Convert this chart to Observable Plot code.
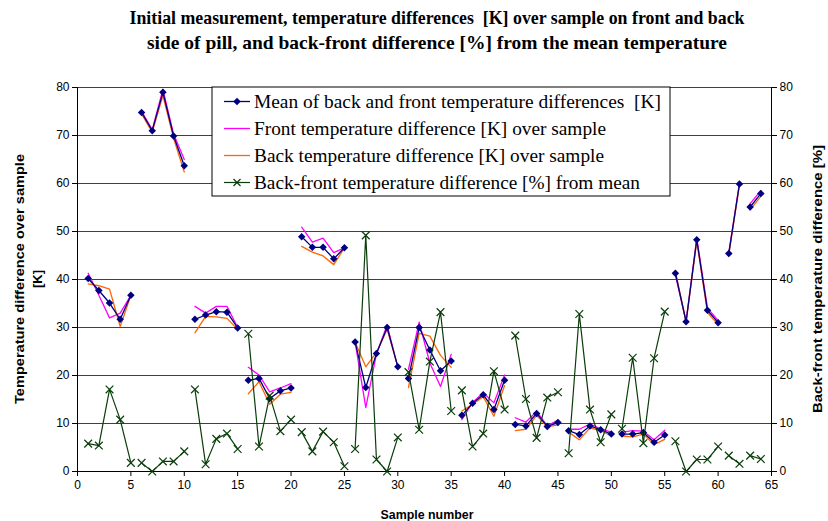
<!DOCTYPE html>
<html>
<head>
<meta charset="utf-8">
<script src="https://cdn.jsdelivr.net/npm/d3@7"></script>
<script src="https://cdn.jsdelivr.net/npm/@observablehq/plot@0.6"></script>
<style>
  html, body { margin: 0; padding: 0; background: #fff; }
  #chart { width: 828px; height: 521px; position: relative; }
</style>
</head>
<body>
<div id="chart"></div>
<script>
// ---- Data ----
const samples = [1,2,3,4,5,6,7,8,9,10,11,12,13,14,15,16,17,18,19,20,21,22,23,24,25,26,27,28,29,30,31,32,33,34,35,36,37,38,39,40,41,42,43,44,45,46,47,48,49,50,51,52,53,54,55,56,57,58,59,60,61,62,63,64];

const meanK = [40.2,37.7,35.1,31.7,36.7, 74.8,71.0,79.0,69.9,63.7, 31.7,32.6,33.3,33.2,29.9, 19.0,19.4,15.2,16.8,17.4,
  48.9,46.7,46.7,44.3,46.6, 27.0,17.5,24.6,30.0,21.8, 19.4,30.0,25.3,21.0,23.0, 11.7,14.2,16.0,12.9,19.0,
  9.8,9.5,12.1,9.4,10.2, 8.5,7.7,9.5,8.7,7.8, 7.8,7.8,8.1,6.1,7.6, 41.3,31.2,48.3,33.6,31.0, 45.4,59.9, 55.1,57.9];

const frontK = [41.3,36.7,32.0,33.0,36.7, 75.1,71.2,79.6,70.3,65.0, 34.4,33.0,34.4,34.4,30.0, 21.7,20.1,16.6,17.4,18.3,
  50.9,47.8,48.6,45.6,46.6, 27.0,13.3,24.5,30.5,21.7, 21.3,31.1,22.6,17.7,24.4, 10.8,14.4,16.4,14.3,20.1,
  11.2,10.3,12.5,9.5,10.7, 8.8,8.8,9.9,8.9,8.2, 8.2,8.5,8.4,6.6,8.6, 40.9,31.3,48.6,34.1,31.4, 45.6,60.1, 55.8,58.5];

const backK = [39.1,38.7,38.0,30.2,36.7, 74.5,70.7,78.3,69.4,62.4, 28.9,32.3,32.2,31.9,29.6, 16.2,18.7,14.0,16.1,16.5,
  46.9,45.7,44.9,43.1,46.6, 27.0,21.8,24.8,29.6,21.9, 17.5,28.8,28.2,24.2,21.7, 12.6,14.0,15.6,11.5,17.9,
  8.5,8.8,11.7,9.3,9.7, 8.2,6.6,9.1,8.5,7.4, 7.4,7.2,7.8,5.6,6.7, 41.7,31.1,48.0,33.1,30.6, 45.2,59.7, 54.5,57.3];

const diffPct = [5.8,5.4,17.1,10.8,1.8, 1.8,0.0,2.1,2.1,4.2, 17.1,1.5,6.8,7.9,4.7, 28.7,5.2,15.8,8.4,10.8,
  8.2,4.2,8.3,6.1,1.1, 4.7,49.2,2.5,0.0,7.1, 20.7,8.7,22.9,33.2,12.6, 16.9,5.2,7.9,20.9,12.9,
  28.3,15.1,7.0,15.4,16.5, 3.8,32.8,12.9,6.1,11.9, 8.9,23.7,5.9,23.6,33.3, 6.3,0.0,2.5,2.5,5.2, 3.3,1.6, 3.3,2.6];

// last sample of each measurement run (lines break after these)
const runEnds = [5,10,15,20,25,30,35,40,45,50,55,60,62,64];

const xTicks = [0,5,10,15,20,25,30,35,40,45,50,55,60,65];
const yTicks = [0,10,20,30,40,50,60,70,80];

const titleLines = [
  "Initial measurement, temperature differences  [K] over sample on front and back",
  "side of pill, and back-front difference [%] from the mean temperature"
];
const legendLabels = [
  "Mean of back and front temperature differences  [K]",
  "Front temperature difference [K] over sample",
  "Back temperature difference [K] over sample",
  "Back-front temperature difference [%] from mean"
];

// ---- Build table ----
const rows = samples.map((s, i) => ({
  s, mean: meanK[i], front: frontK[i], back: backK[i], pct: diffPct[i],
  run: runEnds.findIndex(e => s <= e)
}));

const C = { mean: "#000080", front: "#ff00ff", back: "#ff6600", pct: "#0a3d0a" };

const diamond = {
  draw(ctx, size) {
    const r = Math.sqrt(size / 2);
    ctx.moveTo(0, -r); ctx.lineTo(r, 0); ctx.lineTo(0, r); ctx.lineTo(-r, 0); ctx.closePath();
  }
};

const W = 828, H = 521, ML = 77, MR = 57, MT = 87, MB = 50;

const chart = Plot.plot({
  width: W, height: H,
  marginLeft: ML, marginRight: MR, marginTop: MT, marginBottom: MB,
  style: { fontFamily: "Liberation Sans, Arial, sans-serif", fontSize: "12px", color: "#000", background: "#fff", overflow: "visible" },
  x: { domain: [0, 65] },
  y: { domain: [0, 80] },
  marks: [
    Plot.gridY(yTicks.filter(d => d > 0), { stroke: "#404040", strokeOpacity: 1, strokeWidth: 1 }),
    Plot.ruleY([0], { stroke: "#000", strokeWidth: 1 }),
    Plot.ruleX([0, 65], { stroke: "#000", strokeWidth: 1 }),
    Plot.axisX({ ticks: xTicks, tickSize: 5, tickPadding: 4, label: null, fontSize: 12 }),
    Plot.axisY({ anchor: "left", ticks: yTicks, tickSize: 5, tickPadding: 3, label: null, fontSize: 12 }),
    Plot.axisY({ anchor: "right", ticks: yTicks, tickSize: 5, tickPadding: 3, label: null, fontSize: 12 }),
    Plot.line(rows, { x: "s", y: "front", z: "run", stroke: C.front, strokeWidth: 1.3 }),
    Plot.line(rows, { x: "s", y: "back", z: "run", stroke: C.back, strokeWidth: 1.3 }),
    Plot.line(rows, { x: "s", y: "mean", z: "run", stroke: C.mean, strokeWidth: 1.3 }),
    Plot.dot(rows, { x: "s", y: "mean", symbol: diamond, r: 3, fill: C.mean, stroke: "none" }),
    Plot.line(rows, { x: "s", y: "pct", z: "run", stroke: C.pct, strokeWidth: 1.2 }),
    Plot.dot(rows, { x: "s", y: "pct", symbol: "times", r: 3.6, stroke: C.pct, strokeWidth: 1.2 })
  ]
});

document.getElementById("chart").appendChild(chart);

// ---- Titles, axis labels, legend ----
const svg = d3.select(chart);
const serif = "Liberation Serif, Times New Roman, serif";
const sans = "Liberation Sans, Arial, sans-serif";

const titleLengths = [615, 580];
svg.append("g").selectAll("text").data(titleLines).join("text")
  .attr("x", 437).attr("y", (d, i) => 24 + i * 25)
  .attr("text-anchor", "middle")
  .attr("font-family", serif).attr("font-weight", "bold").attr("font-size", 19)
  .attr("textLength", (d, i) => titleLengths[i]).attr("lengthAdjust", "spacingAndGlyphs")
  .style("white-space", "pre")
  .attr("fill", "#000").text(d => d);

const midY = (MT + H - MB) / 2;
function axisTitle(tx, ty, rot, text, len) {
  const t = svg.append("text")
    .attr("transform", `translate(${tx},${ty})` + (rot ? ` rotate(${rot})` : ""))
    .attr("text-anchor", "middle").attr("font-family", sans).attr("font-weight", "bold").attr("font-size", 13)
    .attr("fill", "#000")
    .text(text);
  if (len) t.attr("textLength", len).attr("lengthAdjust", "spacingAndGlyphs");
  return t;
}
axisTitle(24, midY, -90, "Temperature difference over sample", 250);
axisTitle(42, midY, -90, "[K]", 0);
axisTitle(822, midY, -90, "Back-front temperature difference [%]", 268);
axisTitle((ML + W - MR) / 2 + 3, 519, 0, "Sample number", 93);

// legend
const lg = svg.append("g");
lg.append("rect").attr("x", 212).attr("y", 87).attr("width", 458).attr("height", 109)
  .attr("fill", "#fff").attr("stroke", "#000").attr("stroke-width", 1);
const entries = [
  { color: C.mean, kind: "diamond", len: 407 },
  { color: C.front, kind: "line", len: 352 },
  { color: C.back, kind: "line", len: 350 },
  { color: C.pct, kind: "times", len: 386 }
];
entries.forEach((e, i) => {
  const y = 101.5 + i * 27;
  lg.append("line").attr("x1", 224).attr("x2", 250).attr("y1", y).attr("y2", y)
    .attr("stroke", e.color).attr("stroke-width", e.kind === "times" ? 1.2 : 1.3);
  if (e.kind === "diamond") {
    lg.append("path").attr("d", "M0,-3.8L3.8,0L0,3.8L-3.8,0Z").attr("transform", `translate(237,${y})`).attr("fill", e.color);
  } else if (e.kind === "times") {
    lg.append("path").attr("d", "M-3.5,-3.5L3.5,3.5M-3.5,3.5L3.5,-3.5").attr("transform", `translate(237,${y})`)
      .attr("stroke", e.color).attr("stroke-width", 1.2).attr("fill", "none");
  }
  lg.append("text").attr("x", 254).attr("y", y + 6)
    .attr("text-anchor", "start")
    .attr("font-family", serif).attr("font-size", 18).attr("fill", "#000")
    .attr("textLength", e.len).attr("lengthAdjust", "spacingAndGlyphs")
    .style("white-space", "pre")
    .text(legendLabels[i]);
});
</script>
</body>
</html>
